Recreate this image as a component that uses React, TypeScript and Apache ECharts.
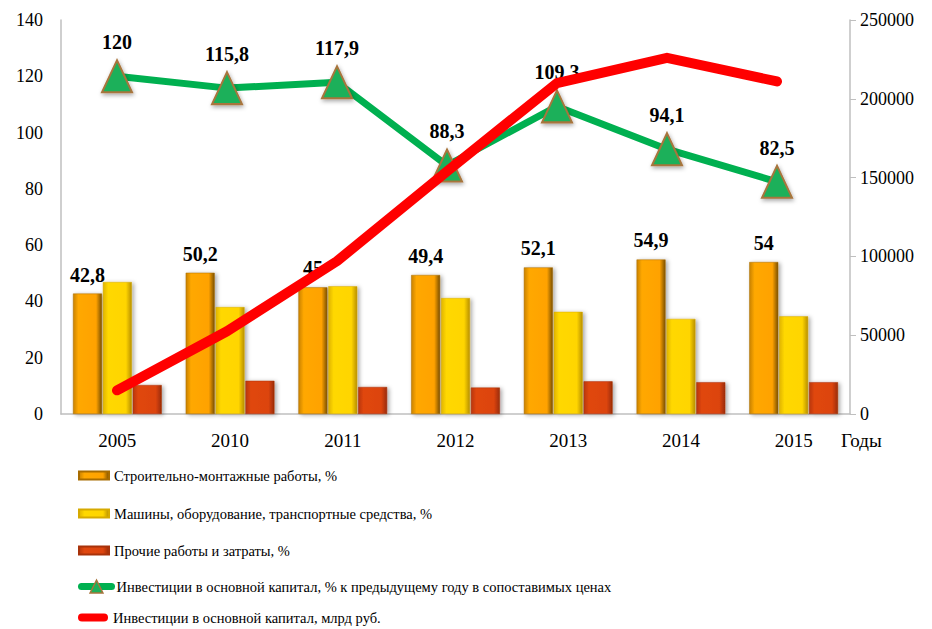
import React, { useEffect, useRef } from "react";
import * as echarts from "echarts";

const years = ["2005", "2010", "2011", "2012", "2013", "2014", "2015"];
const constructionWorks = [42.8, 50.2, 45, 49.4, 52.1, 54.9, 54];
const machinery = [46.9, 38.0, 45.4, 41.2, 36.3, 33.8, 34.7];
const otherWorks = [10.3, 11.8, 9.6, 9.4, 11.6, 11.3, 11.3];
const investIndex = [120, 115.8, 117.9, 88.3, 109.3, 94.1, 82.5];
const investVolume = [15000, 52500, 97000, 154000, 210000, 226000, 211000];
const leftTicks = { min: 0, max: 140, interval: 20 };
const rightTicks = { min: 0, max: 250000, interval: 50000 };

const names = [
  "Строительно-монтажные работы, %",
  "Машины, оборудование, транспортные средства, %",
  "Прочие работы и затраты, %",
  "Инвестиции в основной капитал, % к предыдущему году в сопоставимых ценах",
  "Инвестиции в основной капитал, млрд руб.",
];

const FONT = "Liberation Serif, Times New Roman, serif";
const fmt = (v: number) => String(v).replace(".", ",");

const hGrad = (stops: [number, string][]) =>
  new echarts.graphic.LinearGradient(
    0, 0, 1, 0,
    stops.map(([offset, color]) => ({ offset, color }))
  );

const legendCenters = [476, 514, 551, 587, 618];

export default function App() {
  const ref = useRef<HTMLDivElement>(null);
  useEffect(() => {
    document.body.style.margin = "0";
    const chart = echarts.init(ref.current!, null, { renderer: "svg" });
    const barShadow = {
      shadowBlur: 4,
      shadowColor: "rgba(0,0,0,0.35)",
      shadowOffsetX: 2,
      shadowOffsetY: 1,
    };
    const legendText = { fontSize: 14.5, fontFamily: FONT, color: "#000" };
    const legends = names.map((n, i) => {
      const isLine = i === 3;
      const base: any = {
        orient: "vertical",
        left: 78,
        top: legendCenters[i] - 8,
        padding: 0,
        itemWidth: 30,
        itemHeight: isLine ? 16 : 8,
        textStyle: legendText,
        selectedMode: false,
      };
      if (i < 3) {
        base.data = [{ name: n, icon: "rect", textStyle: legendText }];
      } else if (i === 3) {
        base.data = [
          {
            name: n,
            textStyle: legendText,
            lineStyle: { width: 7, color: "#00b050", cap: "round" },
            itemStyle: { color: "#1eb05a", borderColor: "#a8743c", borderWidth: 1.5 },
          },
        ];
      } else {
        base.data = [
          {
            name: n,
            textStyle: legendText,
            icon: "path://M4,0 L26,0 A4,4 0 0 1 26,8 L4,8 A4,4 0 0 1 4,0 Z",
            itemStyle: { color: "#ff0000" },
          },
        ];
      }
      return base;
    });
    chart.setOption({
      animation: false,
      backgroundColor: "#ffffff",
      textStyle: { fontFamily: FONT, color: "#000" },
      grid: [
        { left: 61, right: 82, top: 20, bottom: 215 },
        { left: 62, right: 100, top: 20, bottom: 215 },
      ],
      xAxis: [
        {
          type: "category",
          gridIndex: 0,
          data: years,
          axisLine: { lineStyle: { color: "#bfbfbf", width: 1.5 } },
          axisTick: { show: false },
          axisLabel: { fontSize: 19, fontFamily: FONT, color: "#000", margin: 17 },
        },
        { type: "category", gridIndex: 1, data: years, show: false },
      ],
      yAxis: [
        {
          type: "value",
          gridIndex: 0,
          position: "left",
          ...leftTicks,
          splitLine: { show: false },
          axisLine: { show: true, lineStyle: { color: "#bfbfbf", width: 1.5 } },
          axisTick: { show: false },
          axisLabel: { fontSize: 18, fontFamily: FONT, color: "#000", margin: 18 },
        },
        {
          type: "value",
          gridIndex: 0,
          position: "right",
          ...rightTicks,
          splitLine: { show: false },
          axisLine: { show: true, lineStyle: { color: "#bfbfbf", width: 1.5 } },
          axisTick: { show: true, length: 6, lineStyle: { color: "#bfbfbf" } },
          axisLabel: {
            fontSize: 18,
            fontFamily: FONT,
            color: "#000",
            margin: 10,
            formatter: (v: number) => String(v),
          },
        },
        { type: "value", gridIndex: 1, ...leftTicks, show: false, splitLine: { show: false } },
        {
          type: "value",
          gridIndex: 1,
          position: "right",
          ...rightTicks,
          show: false,
          splitLine: { show: false },
        },
      ],
      legend: legends,
      graphic: [
        {
          type: "text",
          left: 841,
          top: 431,
          style: { text: "Годы", font: `19px ${FONT}`, fill: "#000" },
        },
      ],
      series: [
        {
          name: names[0],
          type: "bar",
          xAxisIndex: 0,
          yAxisIndex: 0,
          data: constructionWorks,
          barWidth: 29,
          barGap: "3%",
          itemStyle: {
            color: hGrad([
              [0, "#c98200"],
              [0.18, "#ffa800"],
              [0.8, "#ffa200"],
              [1, "#7a5000"],
            ]),
            borderColor: "#a86c00",
            borderWidth: 0.5,
            ...barShadow,
          },
          label: {
            show: true,
            position: "top",
            distance: 9,
            formatter: (p: any) => fmt(p.value),
            fontSize: 20,
            fontWeight: "bold",
            fontFamily: FONT,
            color: "#000",
          },
          z: 2,
        },
        {
          name: names[1],
          type: "bar",
          xAxisIndex: 0,
          yAxisIndex: 0,
          data: machinery,
          barWidth: 29,
          barGap: "3%",
          itemStyle: {
            color: hGrad([
              [0, "#e0b400"],
              [0.18, "#ffd800"],
              [0.8, "#ffd500"],
              [1, "#b89000"],
            ]),
            borderColor: "#d6aa00",
            borderWidth: 0.5,
            ...barShadow,
          },
          z: 2,
        },
        {
          name: names[2],
          type: "bar",
          xAxisIndex: 0,
          yAxisIndex: 0,
          data: otherWorks,
          barWidth: 29,
          barGap: "3%",
          itemStyle: {
            color: hGrad([
              [0, "#b8360a"],
              [0.18, "#e0470f"],
              [0.8, "#dc440e"],
              [1, "#9a2c06"],
            ]),
            borderColor: "#a8320a",
            borderWidth: 0.5,
            ...barShadow,
          },
          z: 2,
        },
        {
          name: names[3],
          type: "line",
          xAxisIndex: 1,
          yAxisIndex: 2,
          data: investIndex,
          symbol: "triangle",
          symbolSize: [30, 32],
          lineStyle: { color: "#00b050", width: 7 },
          itemStyle: {
            color: "#1eb05a",
            borderColor: "#a8743c",
            borderWidth: 2,
            shadowBlur: 4,
            shadowColor: "rgba(0,0,0,0.35)",
            shadowOffsetX: 1,
            shadowOffsetY: 2,
          },
          label: {
            show: true,
            position: "top",
            distance: 7,
            formatter: (p: any) => fmt(p.value),
            fontSize: 20,
            fontWeight: "bold",
            fontFamily: FONT,
            color: "#000",
          },
          z: 5,
        },
        {
          name: names[4],
          type: "line",
          xAxisIndex: 1,
          yAxisIndex: 3,
          data: investVolume,
          symbol: "none",
          lineStyle: { color: "#ff0000", width: 10, cap: "round", join: "round" },
          itemStyle: { color: "#ff0000" },
          z: 6,
        },
      ],
    });
    return () => chart.dispose();
  }, []);
  return <div ref={ref} style={{ width: 932, height: 629 }} />;
}
